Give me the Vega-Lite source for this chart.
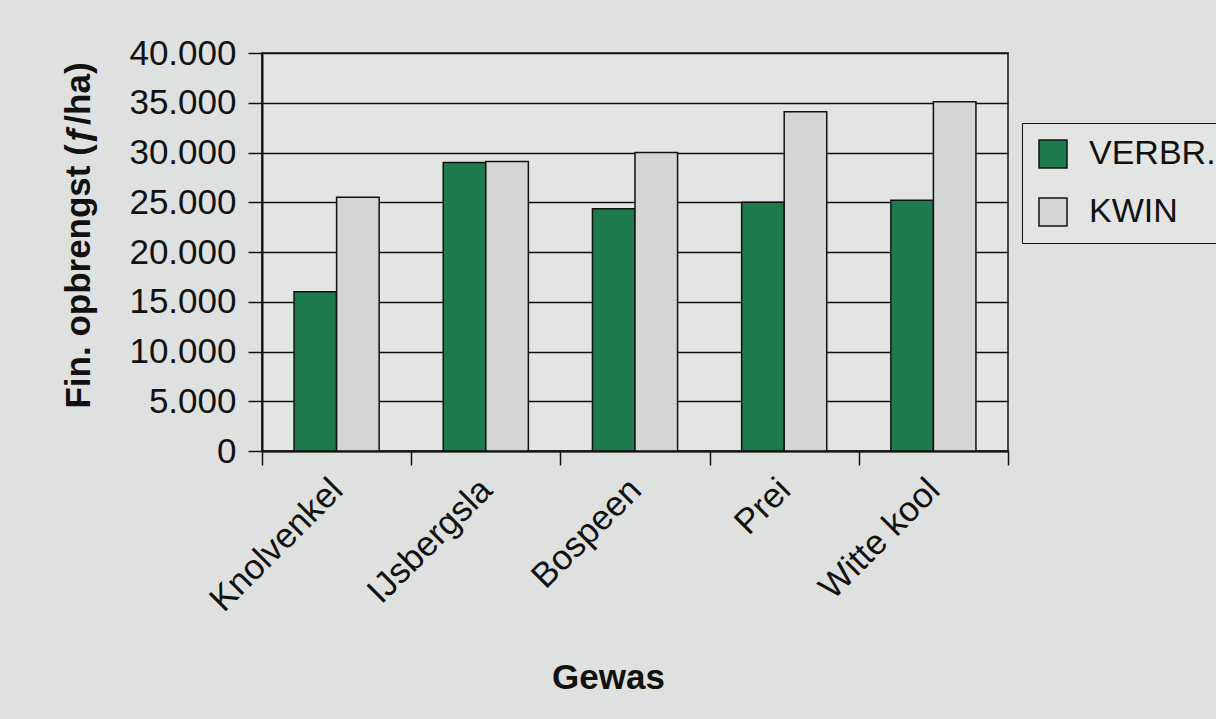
{
  "$schema": "https://vega.github.io/schema/vega-lite/v6.json",
  "autosize": {"type": "none"},
  "width": 746,
  "height": 398,
  "padding": {"left": 262, "top": 53, "right": 208, "bottom": 268},
  "background": "#dfe1e0",
  "config": {
    "font": "Liberation Sans",
    "view": {"stroke": "#111", "strokeWidth": 1.5, "fill": "#e3e5e4"}
  },
  "data": {
    "values": [
      {"gewas": "Knolvenkel", "bron": "VERBR.", "waarde": 16000},
      {"gewas": "Knolvenkel", "bron": "KWIN", "waarde": 25500},
      {"gewas": "IJsbergsla", "bron": "VERBR.", "waarde": 29000},
      {"gewas": "IJsbergsla", "bron": "KWIN", "waarde": 29100},
      {"gewas": "Bospeen", "bron": "VERBR.", "waarde": 24350},
      {"gewas": "Bospeen", "bron": "KWIN", "waarde": 30000},
      {"gewas": "Prei", "bron": "VERBR.", "waarde": 25000},
      {"gewas": "Prei", "bron": "KWIN", "waarde": 34100},
      {"gewas": "Witte kool", "bron": "VERBR.", "waarde": 25200},
      {"gewas": "Witte kool", "bron": "KWIN", "waarde": 35100}
    ]
  },
  "mark": {"type": "bar", "stroke": "#111", "strokeWidth": 1.5},
  "encoding": {
    "x": {
      "field": "gewas",
      "type": "nominal",
      "sort": ["Knolvenkel", "IJsbergsla", "Bospeen", "Prei", "Witte kool"],
      "scale": {"paddingInner": 0, "paddingOuter": 0},
      "axis": {
        "title": "Gewas",
        "titleFontSize": 35,
        "titleFontWeight": "bold",
        "titleColor": "#111",
        "titleX": 346,
        "titleY": 226,
        "titleBaseline": "middle",
        "labelAngle": -45,
        "labelAlign": "right",
        "labelBaseline": "middle",
        "labelFontSize": 35,
        "labelColor": "#111",
        "labelPadding": 19,
        "tickBand": "extent",
        "tickSize": 14,
        "tickColor": "#111",
        "tickWidth": 1.5,
        "domainColor": "#111",
        "domainWidth": 2
      }
    },
    "xOffset": {
      "field": "bron",
      "type": "nominal",
      "sort": ["VERBR.", "KWIN"],
      "scale": {"paddingInner": 0, "paddingOuter": 0.753}
    },
    "y": {
      "field": "waarde",
      "type": "quantitative",
      "scale": {"domain": [0, 40000], "nice": false},
      "axis": {
        "title": "Fin. opbrengst (ƒ/ha)",
        "titleFontSize": 35,
        "titleFontWeight": "bold",
        "titleColor": "#111",
        "titleX": -166,
        "titleY": 182,
        "titleBaseline": "bottom",
        "titleAlign": "center",
        "titleAngle": -90,
        "values": [0, 5000, 10000, 15000, 20000, 25000, 30000, 35000, 40000],
        "labelExpr": "replace(format(datum.value, ','), ',', '.')",
        "labelFontSize": 35,
        "labelColor": "#111",
        "labelPadding": 12,
        "tickSize": 14,
        "tickColor": "#111",
        "tickWidth": 1.5,
        "domainColor": "#111",
        "domainWidth": 2,
        "grid": true,
        "gridColor": "#111",
        "gridWidth": 1.5,
        "gridOpacity": 1
      }
    },
    "color": {
      "field": "bron",
      "type": "nominal",
      "scale": {"domain": ["VERBR.", "KWIN"], "range": ["#1d7a4c", "#d3d6d5"]},
      "legend": {
        "title": null,
        "orient": "none",
        "legendX": 760,
        "legendY": 70,
        "padding": 14,
        "strokeColor": "#111",
        "fillColor": "#e3e5e4",
        "symbolType": "square",
        "symbolSize": 784,
        "symbolStrokeColor": "#111",
        "symbolStrokeWidth": 1.5,
        "symbolOpacity": 1,
        "labelFontSize": 34,
        "labelColor": "#111",
        "labelOffset": 19,
        "rowPadding": 24,
        "labelLimit": 300
      }
    }
  }
}
